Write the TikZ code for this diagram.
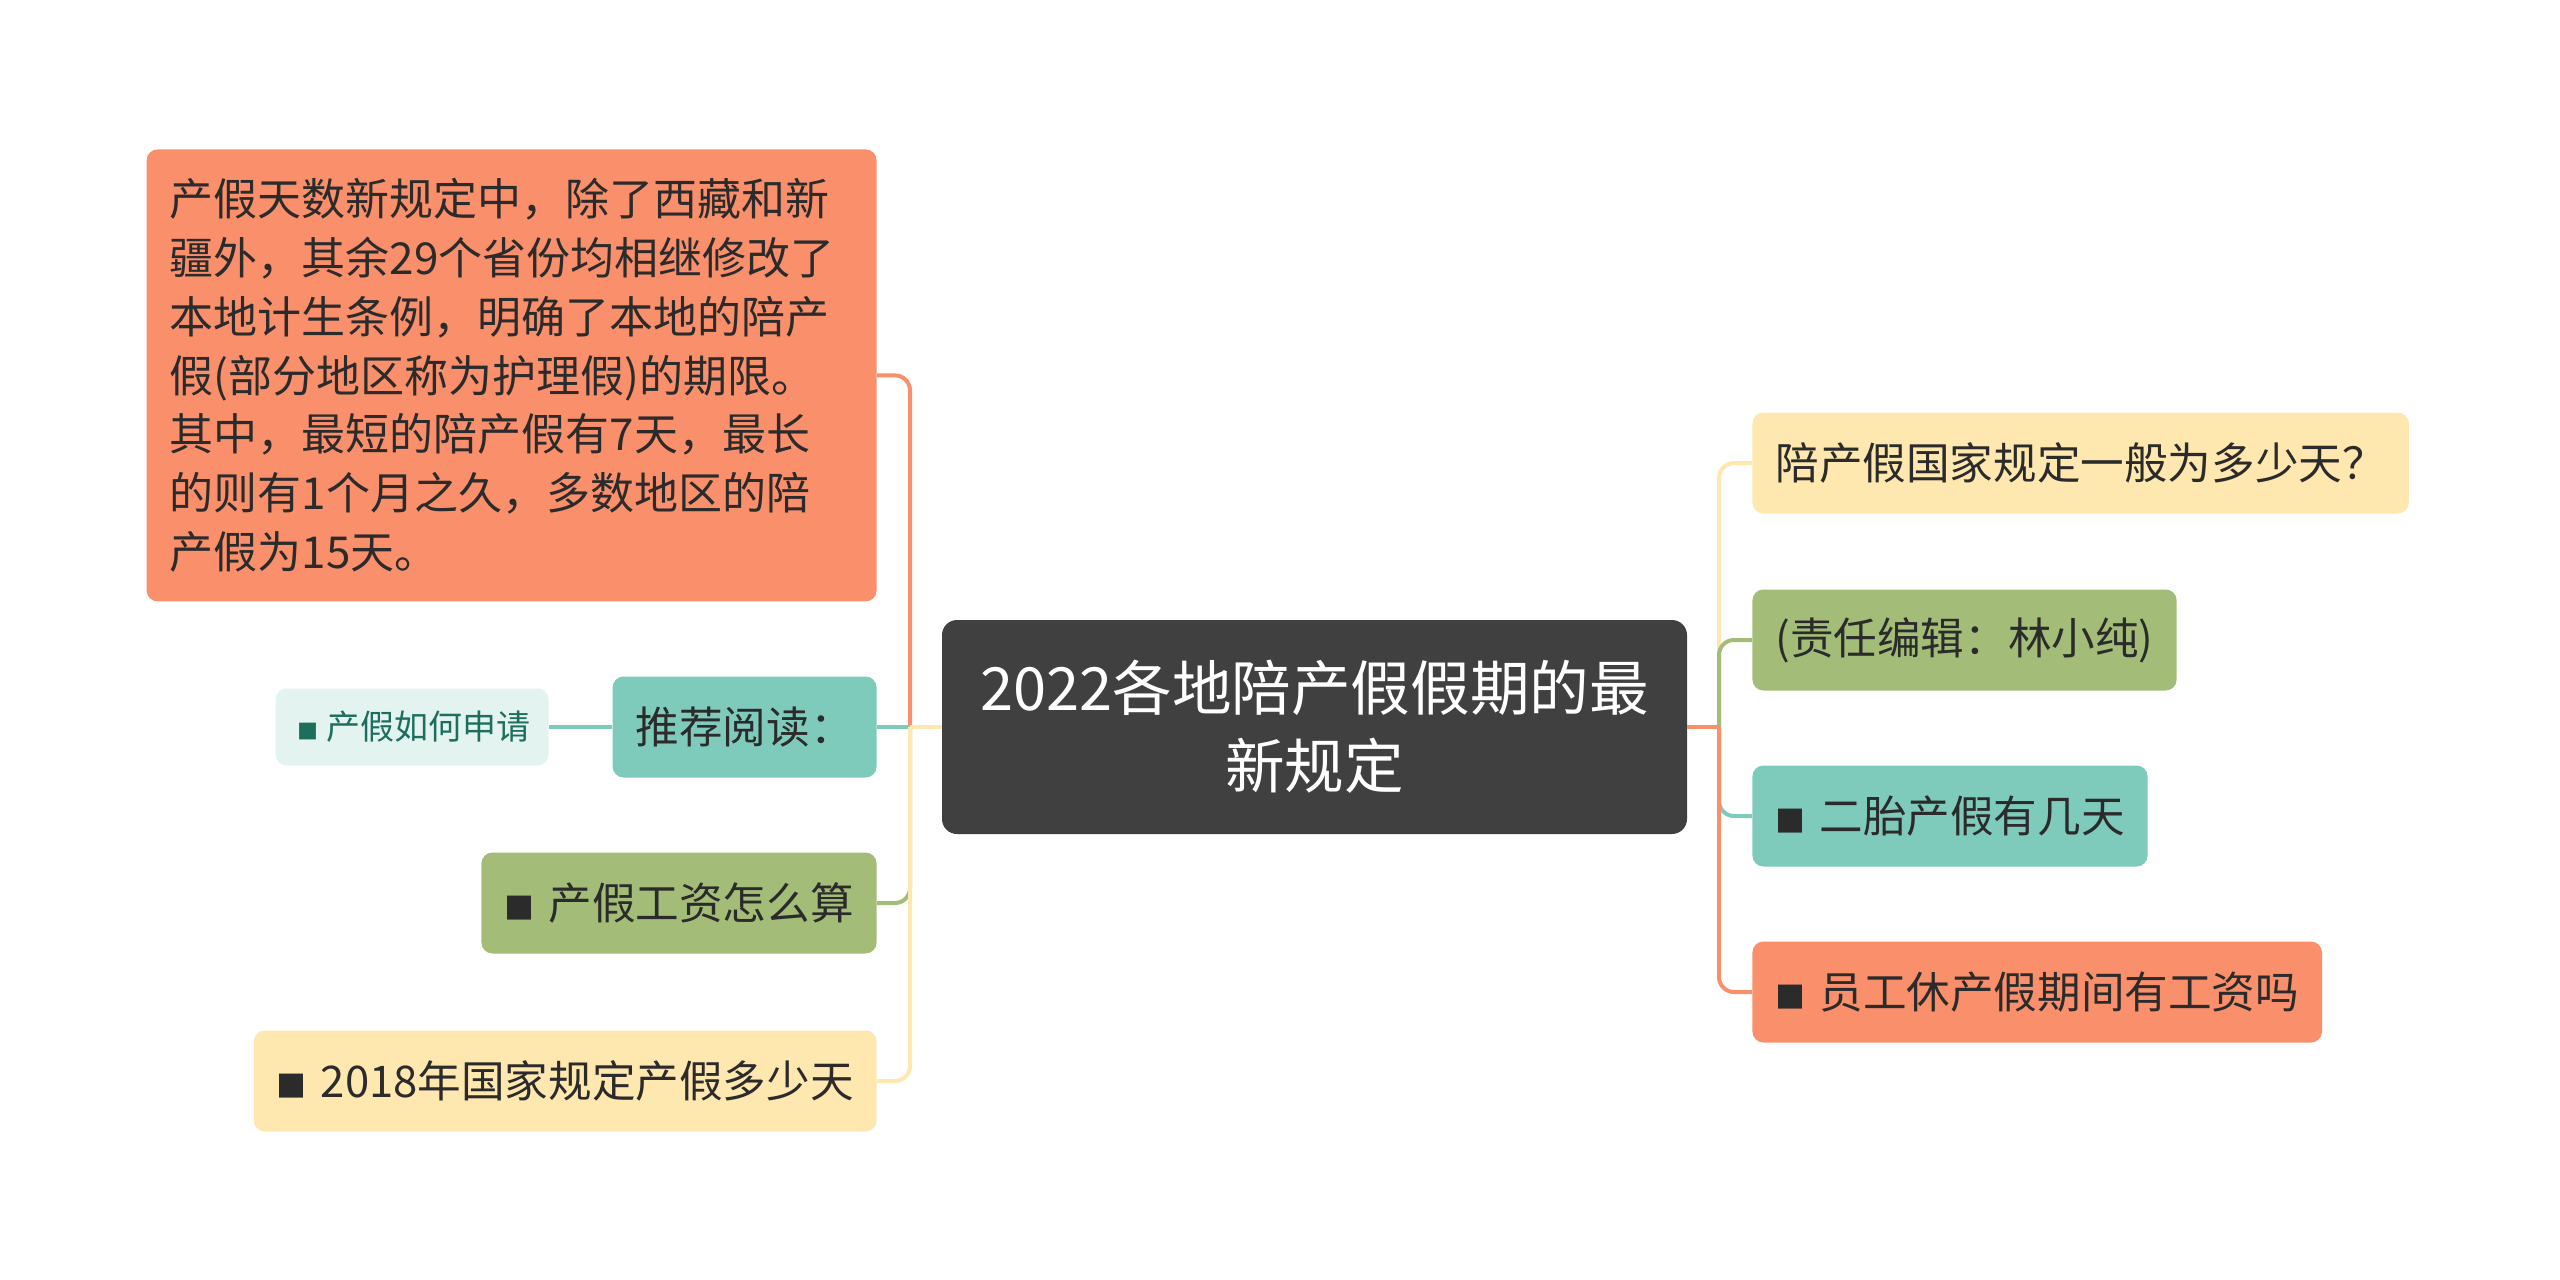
\documentclass[tikz,border=0pt]{standalone}
\usepackage{fontspec}
\setmainfont{Noto Sans CJK SC}
\usepackage{tikz}
\definecolor{topicgray}{HTML}{404040}
\definecolor{leaforange}{HTML}{FA8F6C}
\definecolor{leafteal}{HTML}{7FCBBB}
\definecolor{leafgreen}{HTML}{A3BD78}
\definecolor{leafyellow}{HTML}{FFE7B0}
\definecolor{paleteal}{HTML}{E3F4F0}
\definecolor{darkteal}{HTML}{1E6E5E}
\definecolor{inktext}{HTML}{2B2B2B}
\newcommand{\blt}[2][15]{{\fontsize{#1}{#1}\selectfont ■}\hspace{#2}}

\begin{document}
\begin{tikzpicture}[x=0.5pt, y=-0.5pt,
  topic/.style={fill=topicgray, rounded corners=7.5pt, text=white, align=center,
    minimum width=372.5pt, minimum height=107pt, font=\fontsize{29.8}{39}\selectfont},
  leaf/.style={fill=#1, rounded corners=5.5pt, text=inktext, inner xsep=11.5pt,
    inner ysep=0pt, minimum height=50.5pt, font=\fontsize{21.8}{28}\selectfont},
  link/.style={line width=2pt, draw=#1}]

  % Frame
  \useasboundingbox (0,0) rectangle (2560,1280);

  % Central topic
  \node[topic] (main) at (1314.5,727) {2022各地陪产假假期的最\\新规定};

  % Junctions
  \coordinate (lj) at (910,727);
  \coordinate (rj) at (1719,727);

  % Left side
  \node[leaf=leaforange, anchor=north east, text width=342pt, align=left,
    minimum height=226pt, font=\fontsize{22}{29.4}\selectfont] (note) at (877,149)
    {产假天数新规定中，除了西藏和新\\
     疆外，其余29个省份均相继修改了\\
     本地计生条例，明确了本地的陪产\\
     假(部分地区称为护理假)的期限。\\
     其中，最短的陪产假有7天，最长\\
     的则有1个月之久，多数地区的陪\\
     产假为15天。};
  \node[leaf=leafteal, anchor=east] (read) at (877,727) {推荐阅读：};
  \node[leaf=paleteal, anchor=east, text=darkteal, minimum height=38.5pt,
    inner xsep=9pt, font=\fontsize{17}{22}\selectfont] (apply) at (549,727)
    {\hspace{2pt}\blt[10.5]{4pt}产假如何申请};
  \node[leaf=leafgreen, anchor=east] (wage) at (877,903) {\blt{7pt}产假工资怎么算};
  \node[leaf=leafyellow, anchor=east] (law) at (877,1081) {\blt{7pt}2018年国家规定产假多少天};

  % Right side
  \node[leaf=leafyellow, anchor=west] (days) at (1752,463) {陪产假国家规定一般为多少天？};
  \node[leaf=leafgreen, anchor=west] (editor) at (1752,640) {(责任编辑：林小纯)};
  \node[leaf=leafteal, anchor=west] (twin) at (1752,816) {\blt{7pt}二胎产假有几天};
  \node[leaf=leaforange, anchor=west] (pay) at (1752,992) {\blt{7pt}员工休产假期间有工资吗};

  % Left links
  \draw[link=leaforange, rounded corners=7.5pt] (lj) |- (note.east);
  \draw[link=leafteal] (lj) -- (read.east);
  \draw[link=leafgreen, rounded corners=7.5pt] (lj) |- (wage.east);
  \draw[link=leafyellow, rounded corners=7.5pt] (lj) |- (law.east);
  \draw[link=leafyellow] (main.west) -- (lj);
  \draw[link=leafteal] (read.west) -- (apply.east);

  % Right links
  \draw[link=leafyellow, rounded corners=7.5pt] (rj) |- (days.west);
  \draw[link=leafgreen, rounded corners=7.5pt] (rj) |- (editor.west);
  \draw[link=leafteal, rounded corners=7.5pt] (rj) |- (twin.west);
  \draw[link=leaforange, rounded corners=7.5pt] (rj) |- (pay.west);
  \draw[link=leaforange] (main.east) -- (rj);

\end{tikzpicture}
\end{document}
